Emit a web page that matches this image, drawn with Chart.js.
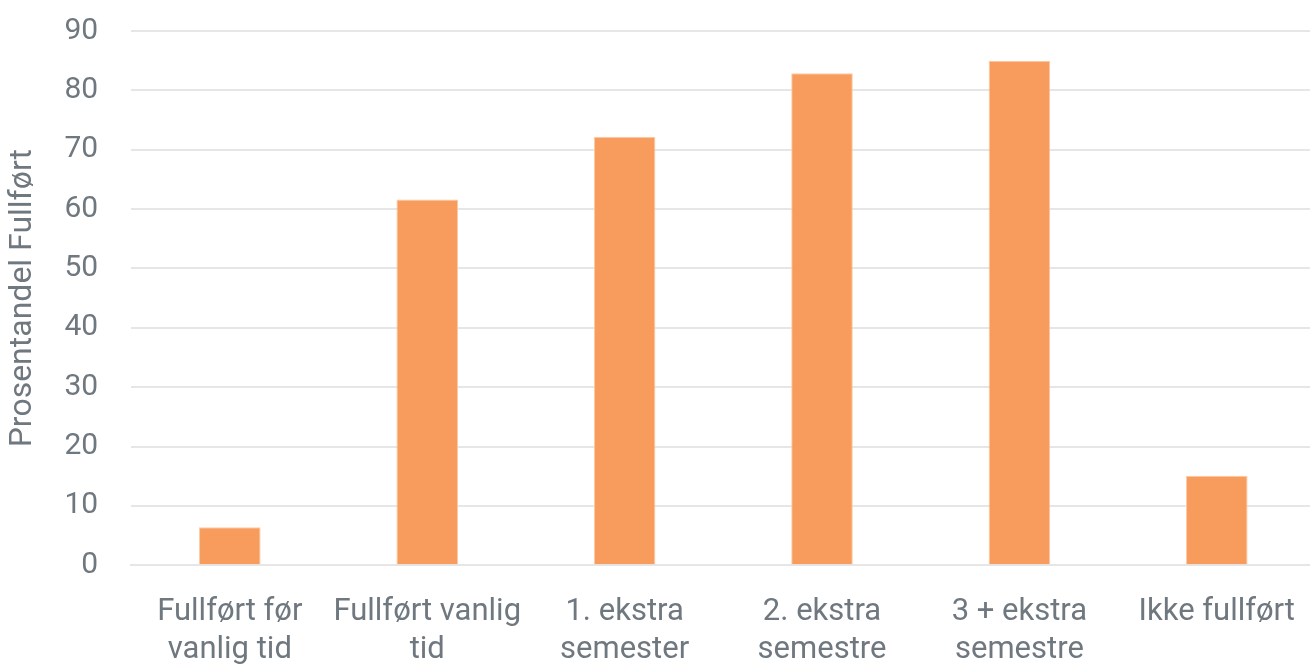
<!DOCTYPE html>
<html>
<head>
<meta charset="utf-8">
<script src="https://cdn.jsdelivr.net/npm/chart.js@4.4.1/dist/chart.umd.min.js"></script>
<style>
  html, body { margin: 0; padding: 0; background: #ffffff; overflow: hidden; }
  #wrap { position: relative; width: 1323px; height: 717px; margin-top: -20px; }
</style>
</head>
<body>
<div id="wrap"><canvas id="c"></canvas></div>
<script>
const categories = [
  ["Fullført før", "vanlig tid"],
  ["Fullført vanlig", "tid"],
  ["1. ekstra", "semester"],
  ["2. ekstra", "semestre"],
  ["3 + ekstra", "semestre"],
  ["Ikke fullført"]
];
const values = [6.4, 61.6, 72.2, 82.9, 85.0, 15.1];
const yTicks = [0, 10, 20, 30, 40, 50, 60, 70, 80, 90];
const yTitle = "Prosentandel Fullført";

const FONT = '"Roboto", "Liberation Sans", sans-serif';
const TEXT = '#6f777f';

new Chart(document.getElementById('c'), {
  type: 'bar',
  data: {
    labels: categories,
    datasets: [{
      data: values,
      backgroundColor: '#F79C5C',
      borderColor: '#FBCBA6',
      borderWidth: 1,
      categoryPercentage: 1.0,
      barPercentage: 0.312
    }]
  },
  options: {
    responsive: true,
    maintainAspectRatio: false,
    animation: false,
    layout: { padding: { top: 0, right: 0, left: 4, bottom: 0 } },
    plugins: { legend: { display: false }, tooltip: { enabled: false } },
    scales: {
      x: {
        grid: { display: false, drawTicks: false },
        border: { display: true, color: '#e6e6e6', width: 2 },
        ticks: {
          color: TEXT,
          font: { family: FONT, size: 31, lineHeight: 1.22 },
          padding: 28,
          maxRotation: 0,
          autoSkip: false
        }
      },
      y: {
        min: 0,
        max: 90,
        afterBuildTicks: (axis) => { axis.ticks = yTicks.map(v => ({ value: v })); },
        grid: { color: '#e6e6e6', lineWidth: 2, drawTicks: false },
        border: { display: false },
        ticks: {
          color: TEXT,
          font: { family: FONT, size: 30 },
          padding: 33
        },
        title: {
          display: true,
          text: yTitle,
          color: TEXT,
          font: { family: FONT, size: 32, lineHeight: 1.2 },
          padding: { top: 0, bottom: -11 }
        }
      }
    }
  }
});
</script>
</body>
</html>
